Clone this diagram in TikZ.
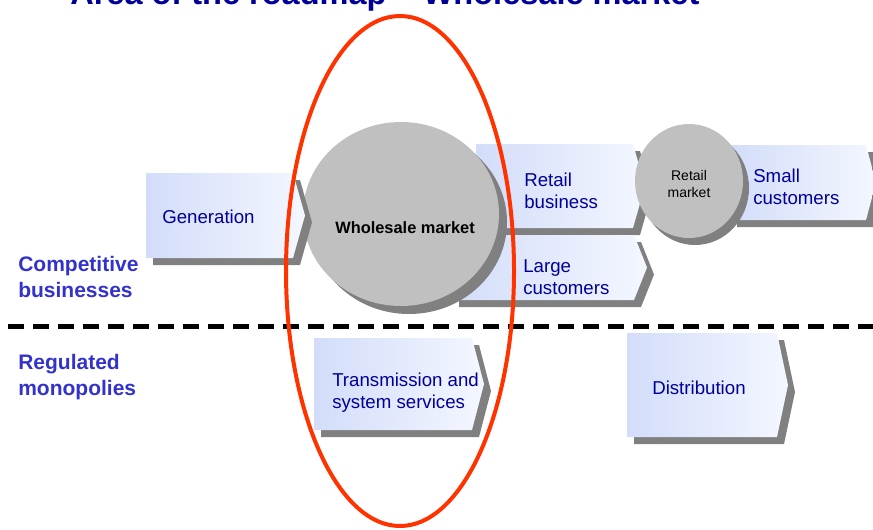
\documentclass[tikz,border=0pt]{standalone}
\usepackage{fontspec}
\setmainfont{Liberation Sans}
\usetikzlibrary{positioning}

\definecolor{titleblue}{RGB}{0,0,153}
\definecolor{boxtext}{RGB}{0,0,153}
\definecolor{sideblue}{RGB}{51,51,204}
\definecolor{shadowgray}{RGB}{128,128,128}
\definecolor{circgray}{RGB}{192,192,192}
\definecolor{ovalred}{RGB}{255,51,0}
\definecolor{boxleft}{RGB}{211,221,250}
\definecolor{boxright}{RGB}{244,247,255}

% chevron box: left, top, right, bottom, tip depth
\newcommand{\chevbox}[5]{%
  \fill[shadowgray,shift={(7,7)}] (#1,#2) -- (#3,#2) -- ({#3+#5},{(#2+#4)/2}) -- (#3,#4) -- (#1,#4) -- cycle;
  \shade[left color=boxleft,right color=boxright] (#1,#2) -- (#3,#2) -- ({#3+#5},{(#2+#4)/2}) -- (#3,#4) -- (#1,#4) -- cycle;
}

\tikzset{
  boxlabel/.style={anchor=west,inner sep=0pt,align=left,text=boxtext,font=\fontsize{14}{16.5}\selectfont},
  sidelabel/.style={anchor=west,inner sep=0pt,align=left,text=sideblue,font=\bfseries\fontsize{15.75}{19}\selectfont},
  marketlabel/.style={inner sep=0pt,align=center,text=black}
}

\begin{document}
\begin{tikzpicture}[line cap=round,line join=round,x=0.75pt,y=-0.75pt]
\useasboundingbox (0,0) rectangle (873,529);

% boxes behind the circles
\foreach \l/\t/\r/\b/\d in {476/144/633/228/12, 452/235/634/300/13, 730/145/866/220/10}
  {\chevbox{\l}{\t}{\r}{\b}{\d}}

% circles
\fill[shadowgray] (409,222) ellipse [x radius=73.5pt,y radius=69pt];
\fill[circgray] (401,214) ellipse [x radius=73.5pt,y radius=69pt];
\fill[shadowgray] (695,188) ellipse [x radius=40.5pt,y radius=42.75pt];
\fill[circgray] (689,181) ellipse [x radius=40.5pt,y radius=42.75pt];

% boxes in front
\foreach \l/\t/\r/\b/\d in {146/173/293/258/12, 314/338/472/430/12, 627/333/777/437/11}
  {\chevbox{\l}{\t}{\r}{\b}{\d}}

\node[boxlabel] (gen) at (162,217) {Generation};
\node[boxlabel] (retail) at (524,191) {Retail\\business};
\node[boxlabel] (large) at (523,277) {Large\\customers};
\node[boxlabel] (small) at (753,187) {Small\\customers};
\node[boxlabel] (trans) at (332,393) {Transmission and\\system services};
\node[boxlabel] (dist) at (652,388) {Distribution};
\node[marketlabel,font=\bfseries\fontsize{12.3}{14}\selectfont] (wholesale) at (405,228) {Wholesale market};
\node[marketlabel,font=\fontsize{10.5}{12.75}\selectfont] (rmarket) at (689,184) {Retail\\market};

\node[sidelabel] (comp) at (18,277) {Competitive\\businesses};
\node[sidelabel] (reg) at (18,377) {Regulated\\monopolies};

\draw[line width=3.75pt,line cap=butt,dash pattern=on 12pt off 6.75pt] (8,326) -- (873,326);

\draw[ovalred,line width=3pt] (400,271) ellipse [x radius=85.5pt,y radius=191.25pt];

\node[anchor=base west,inner sep=0pt,text=titleblue,font=\bfseries\fontsize{24.4}{28}\selectfont] (title) at (70,4) {Area of the roadmap – Wholesale market};

\end{tikzpicture}
\end{document}
